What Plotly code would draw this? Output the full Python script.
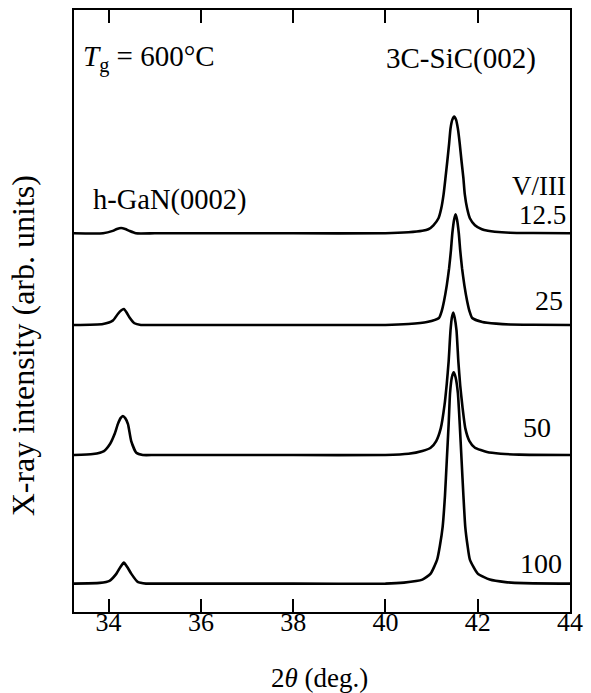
import plotly.graph_objects as go

FONT = "Liberation Serif"

# V/III ratios and vertical offsets of the stacked scans (arb. units)
ratios = ["12.5", "25", "50", "100"]
offsets = [380, 288, 157.5, 28.5]

# 2theta (deg.) and intensity (arb. units)
x_125 = [33.25, 33.88, 34.09, 34.18, 34.27, 34.36, 34.45, 34.59, 35.0, 36.0, 38.0, 40.0,
         40.5, 40.8, 40.93, 41.04, 41.15, 41.21, 41.26, 41.30, 41.34, 41.38, 41.41, 41.45,
         41.49, 41.53, 41.57, 41.61, 41.65, 41.69, 41.72, 41.77, 41.83, 41.94, 42.09, 42.22,
         42.37, 42.7, 43.2, 44.0]
y_125 = [0, 0, 2.4, 4.3, 5.3, 4.3, 2.4, 0, 0, 0, 0, 0,
         1.0, 2.5, 4, 8, 15, 25, 39, 55, 72, 90, 105, 114,
         117, 114, 105, 90, 72, 55, 39, 25, 15, 8, 4, 2.5,
         1.5, 0.5, 0.2, 0]

x_25 = [33.25, 33.88, 34.09, 34.20, 34.27, 34.33, 34.39, 34.45, 34.56, 34.70, 35.0, 36, 38, 40,
        40.5, 40.9, 41.16, 41.22, 41.27, 41.33, 41.38, 41.42, 41.45, 41.49, 41.52, 41.55,
        41.59, 41.62, 41.66, 41.71, 41.77, 41.82, 41.88, 42.1, 42.4, 42.7, 43.2, 44]
y_25 = [0, 1, 4.3, 11, 14.5, 16, 12.5, 7.7, 1.7, 0, 0, 0, 0, 0,
        1.0, 3, 7, 14, 24, 40, 57, 75, 92, 106, 111, 106,
        92, 75, 57, 40, 24, 14, 7, 3, 1.3, 0.5, 0.2, 0]

x_50 = [33.25, 33.66, 33.9, 34.03, 34.13, 34.20, 34.26, 34.31, 34.36, 34.42, 34.49, 34.60, 34.74,
        35.0, 36, 38, 40,
        40.5, 40.8, 40.98, 41.1, 41.2, 41.28, 41.33, 41.37, 41.41, 41.44, 41.47, 41.50,
        41.54, 41.58, 41.62, 41.67, 41.73, 41.82, 41.94, 42.2, 42.5, 42.9, 44]
y_50 = [0, 1, 4, 11, 21, 31, 37, 39, 37, 31, 14, 2.3, 0,
        0, 0, 0, 0,
        1.2, 4, 7.3, 14, 27, 50, 72, 94, 125, 138, 143, 138,
        125, 94, 70, 48, 27, 14, 7.3, 3, 1.3, 0.4, 0]

x_100 = [33.25, 33.81, 34.02, 34.17, 34.26, 34.33, 34.40, 34.49, 34.63, 34.81, 35.0, 36, 38, 40,
         40.4, 40.8, 40.98, 41.12, 41.18, 41.24, 41.29, 41.33, 41.37, 41.40, 41.44, 41.48,
         41.52, 41.57, 41.61, 41.65, 41.69, 41.73, 41.78, 41.83, 42.0, 42.26, 42.6, 43.0, 44]
y_100 = [0, 0.7, 2.7, 10, 17, 21, 17, 10, 1.7, 0, 0, 0, 0, 0,
         1, 4, 10, 24, 38, 57, 88, 124, 160, 191, 207, 212,
         207, 191, 160, 124, 88, 57, 38, 24, 10, 4, 1.5, 0.5, 0]

xs = [x_125, x_25, x_50, x_100]
ys = [y_125, y_25, y_50, y_100]

x_ticks = [34, 36, 38, 40, 42, 44]

fig = go.Figure()
for r, off, xv, yv in zip(ratios, offsets, xs, ys):
    fig.add_trace(go.Scatter(
        x=xv, y=[off + v for v in yv], mode="lines", name=r,
        line=dict(color="black", width=2.6, shape="spline", smoothing=0.5),
        showlegend=False, hoverinfo="skip"))

fig.update_layout(
    width=591, height=693,
    margin=dict(l=74, r=15, t=8, b=81),
    paper_bgcolor="white", plot_bgcolor="white",
    font=dict(family=FONT, size=26, color="black"),
    xaxis=dict(range=[33.25, 44], tickvals=x_ticks, ticktext=[str(t) for t in x_ticks],
               ticks="inside", ticklen=13, tickwidth=2, tickcolor="black",
               showline=True, linecolor="black", linewidth=2, mirror="ticks",
               ticklabelstandoff=-14,
               showgrid=False, zeroline=False, tickfont=dict(size=26, family=FONT)),
    yaxis=dict(range=[0, 604], showticklabels=False, ticks="",
               showline=True, linecolor="black", linewidth=2, mirror=True,
               showgrid=False, zeroline=False),
)

ann = [
    dict(text="2<i>θ</i> (deg.)", x=0.494, y=-0.11, xanchor="center", yanchor="middle", size=27),
    dict(text="<i>T</i><sub>g</sub> = 600°C", x=0.014, y=0.919, xanchor="left", yanchor="middle", size=29),
    dict(text="3C-SiC(002)", x=0.781, y=0.919, xanchor="center", yanchor="middle", size=29),
    dict(text="h-GaN(0002)", x=0.034, y=0.685, xanchor="left", yanchor="middle", size=28.5),
    dict(text="V/III", x=0.996, y=0.707, xanchor="right", yanchor="middle", size=27),
    dict(text="12.5", x=0.996, y=0.659, xanchor="right", yanchor="middle", size=27),
    dict(text="25", x=0.99, y=0.517, xanchor="right", yanchor="middle", size=28),
    dict(text="50", x=0.966, y=0.306, xanchor="right", yanchor="middle", size=28),
    dict(text="100", x=0.988, y=0.081, xanchor="right", yanchor="middle", size=28),
]
for a in ann:
    fig.add_annotation(text=a["text"], x=a["x"], y=a["y"], xref="paper", yref="paper",
                       xanchor=a["xanchor"], yanchor=a["yanchor"], showarrow=False,
                       font=dict(family=FONT, size=a["size"], color="black"))

fig.add_annotation(text="X-ray intensity (arb. units)", x=-0.104, y=0.442, xref="paper", yref="paper",
                   xanchor="center", yanchor="middle", textangle=-90, showarrow=False,
                   font=dict(family=FONT, size=32, color="black"))

fig.write_html("out.html", config={"displayModeBar": False},
               post_script="document.body.style.margin='0px';")
